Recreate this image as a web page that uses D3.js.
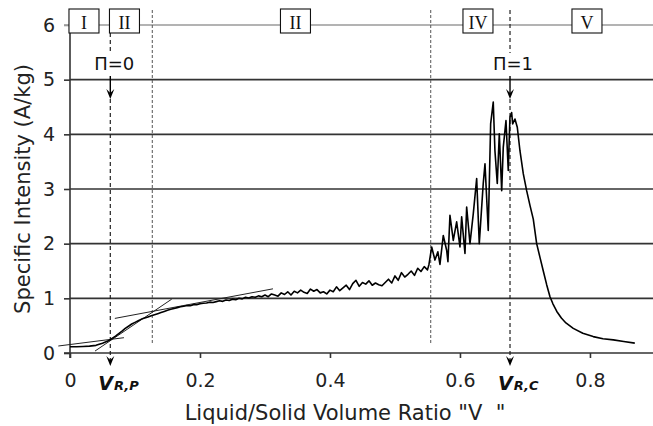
<!DOCTYPE html>
<html>
<head>
<meta charset="utf-8">
<script src="https://cdn.jsdelivr.net/npm/d3@7"></script>
<style>
  html, body { margin: 0; padding: 0; background: #fff; }
  svg { display: block; }
  text { white-space: pre; }
</style>
</head>
<body>
<div id="chart"></div>
<script>
// ---- data ----
const ratio = [
  0.000, 0.010, 0.020, 0.030, 0.040, 0.050, 0.060, 0.070, 0.080,
  0.085, 0.090, 0.095, 0.100, 0.105, 0.110, 0.115, 0.120, 0.125, 0.130,
  0.135, 0.140, 0.145, 0.150, 0.155, 0.160, 0.165, 0.170, 0.175, 0.180,
  0.185, 0.190, 0.195, 0.200, 0.205, 0.210, 0.215, 0.220, 0.225, 0.230,
  0.235, 0.240, 0.245, 0.250, 0.255, 0.260, 0.265, 0.270, 0.275, 0.280,
  0.285, 0.290, 0.295, 0.300, 0.305, 0.310, 0.315, 0.320, 0.325, 0.330,
  0.335, 0.340, 0.345, 0.350, 0.355, 0.360, 0.365, 0.370, 0.375, 0.380,
  0.385, 0.390, 0.395, 0.400, 0.405, 0.410, 0.415, 0.420, 0.425, 0.430,
  0.435, 0.440, 0.445, 0.450, 0.455, 0.460, 0.465, 0.470, 0.475, 0.480,
  0.485, 0.490, 0.495, 0.500, 0.505, 0.510, 0.515, 0.520, 0.525, 0.530,
  0.535, 0.540, 0.545, 0.550,
  0.5523, 0.5565, 0.5615, 0.566, 0.5692, 0.5743, 0.5795, 0.5815, 0.5846,
  0.5897, 0.5949, 0.6000, 0.6026, 0.6077, 0.6103, 0.6154, 0.6205, 0.6257,
  0.6297, 0.6358, 0.6385, 0.6435, 0.6472, 0.6512, 0.6538, 0.6574, 0.6605,
  0.6642, 0.6666, 0.6708, 0.6743, 0.6769, 0.6795, 0.6811, 0.6846, 0.6882,
  0.6923, 0.6974, 0.7026, 0.7077, 0.7128, 0.7180, 0.7231, 0.7282, 0.7334,
  0.7385, 0.7430, 0.7490, 0.7560, 0.7630, 0.7743, 0.7890, 0.8050, 0.8200,
  0.8360, 0.8520, 0.8690
];
const intensity = [
  0.115, 0.115, 0.120, 0.125, 0.140, 0.180, 0.230, 0.310, 0.400,
  0.45, 0.49, 0.53, 0.56, 0.59, 0.62, 0.64, 0.66, 0.68, 0.70,
  0.72, 0.74, 0.76, 0.78, 0.80, 0.815, 0.83, 0.845, 0.855, 0.87,
  0.865, 0.885, 0.885, 0.90, 0.91, 0.915, 0.93, 0.925, 0.94, 0.955,
  0.945, 0.97, 0.96, 0.985, 0.975, 1.00, 0.99, 1.02, 1.005, 1.03,
  1.02, 1.045, 1.03, 1.06, 1.03, 1.08, 1.06, 1.04, 1.10, 1.07,
  1.12, 1.06, 1.13, 1.10, 1.15, 1.11, 1.09, 1.17, 1.13, 1.16,
  1.10, 1.12, 1.08, 1.15, 1.12, 1.21, 1.14, 1.19, 1.24, 1.16,
  1.27, 1.33, 1.22, 1.29, 1.26, 1.32, 1.24, 1.28, 1.25, 1.23,
  1.29, 1.35, 1.28, 1.41, 1.33, 1.47, 1.39, 1.44, 1.50, 1.42,
  1.55, 1.49, 1.58, 1.52,
  1.62, 1.94, 1.70, 1.85, 1.62, 2.15, 1.88, 1.67, 2.52,
  2.06, 2.40, 1.94, 2.49, 1.82, 2.67, 2.00, 2.55, 3.19,
  2.00, 3.10, 3.46, 2.24, 4.19, 4.59, 3.70, 3.10, 4.01,
  2.97, 3.76, 4.25, 3.34, 4.31, 4.40, 4.19, 4.28, 4.13,
  3.70, 3.28, 2.97, 2.70, 2.45, 2.00, 1.75, 1.50, 1.25,
  1.03, 0.90, 0.76, 0.64, 0.55, 0.45, 0.36, 0.30, 0.26,
  0.24, 0.21, 0.18
];
const xTicks = [0, 0.2, 0.4, 0.6, 0.8];
const yTicks = [0, 1, 2, 3, 4, 5, 6];
const tangentLow   = [[-0.018, 0.128], [0.083, 0.28]];
const tangentSteep = [[0.0385, 0.036], [0.1565, 0.985]];
const tangentHigh  = [[0.069, 0.633], [0.3123, 1.174]];
const regionNames  = ["I", "II", "II", "IV", "V"];
const regionCenters = [0.0215, 0.0838, 0.3469, 0.6277, 0.7954];
const regionBounds = [0.1266, 0.555];
const vRP = 0.062, vRC = 0.677;

// ---- chart ----
const W = 653, H = 426;
const svg = d3.select("#chart").append("svg").attr("width", W).attr("height", H);
svg.append("rect").attr("width", W).attr("height", H).attr("fill", "#fff");

const x = d3.scaleLinear().domain([0, 0.897]).range([70, 653]);
const y = d3.scaleLinear().domain([0, 6]).range([353, 25]);
const sans = "DejaVu Sans, Verdana, sans-serif";

// gridlines
svg.append("g").selectAll("line").data(yTicks.filter(d => d > 0)).join("line")
  .attr("x1", d => d === 6 ? 64 : 70).attr("x2", 653)
  .attr("y1", d => y(d)).attr("y2", d => y(d))
  .attr("stroke", d => d === 6 ? "#9a9a9a" : "#333")
  .attr("stroke-width", 1.6);

// axes
const yAxis = d3.axisLeft(y).tickValues(yTicks).tickSize(6).tickPadding(9).tickFormat(d3.format("d"));
const gy = svg.append("g").attr("transform", "translate(70,0)").call(yAxis);
gy.select(".domain").remove();
gy.selectAll(".tick line").attr("stroke", d => d === 6 ? "#9a9a9a" : "#333").attr("stroke-width", 1.6);
gy.selectAll("text").attr("font-family", sans).attr("font-size", 19).attr("fill", "#222");
svg.append("line").attr("x1", 70).attr("x2", 70).attr("y1", y(6)).attr("y2", 358)
  .attr("stroke", "#333").attr("stroke-width", 1.6);

const xAxis = d3.axisBottom(x).tickValues(xTicks).tickSize(5).tickPadding(16)
  .tickFormat(d => d === 0 ? "0" : d3.format(".1f")(d));
const gx = svg.append("g").attr("transform", "translate(0,353)").call(xAxis);
gx.select(".domain").remove();
gx.selectAll(".tick line").attr("stroke", "#333").attr("stroke-width", 1.6);
gx.selectAll("text").attr("font-family", sans).attr("font-size", 19).attr("fill", "#222");
svg.append("line").attr("x1", 64).attr("x2", 653).attr("y1", 353).attr("y2", 353)
  .attr("stroke", "#333").attr("stroke-width", 1.6);

// region boundary dotted lines
svg.append("g").selectAll("line").data(regionBounds).join("line")
  .attr("x1", d => x(d)).attr("x2", d => x(d)).attr("y1", 10).attr("y2", 345)
  .attr("stroke", "#555").attr("stroke-width", 1).attr("stroke-dasharray", "3,2");

// VR dashed lines with arrows
const arrowHead = (cx, tip) => `M${cx - 4},${tip - 10} L${cx},${tip} L${cx + 4},${tip - 10} L${cx},${tip - 6} Z`;
[[vRP, 33], [vRC, 10]].forEach(([v, top]) => {
  const cx = x(v);
  svg.append("line").attr("x1", cx).attr("x2", cx).attr("y1", top).attr("y2", 53)
    .attr("stroke", "#222").attr("stroke-width", 1.2).attr("stroke-dasharray", "4,3");
  svg.append("line").attr("x1", cx).attr("x2", cx).attr("y1", 76).attr("y2", 95)
    .attr("stroke", "#000").attr("stroke-width", 1.4);
  svg.append("path").attr("d", arrowHead(cx, 99)).attr("fill", "#000");
  svg.append("line").attr("x1", cx).attr("x2", cx).attr("y1", 99).attr("y2", 362)
    .attr("stroke", "#222").attr("stroke-width", 1.2).attr("stroke-dasharray", "4,3");
  svg.append("path").attr("d", arrowHead(cx, 366)).attr("fill", "#000");
});

// region boxes
const boxes = svg.append("g").selectAll("g").data(regionNames).join("g");
boxes.append("rect")
  .attr("x", (d, i) => x(regionCenters[i]) - 15).attr("y", 9)
  .attr("width", 30).attr("height", 24)
  .attr("fill", "#fff").attr("stroke", "#111").attr("stroke-width", 1.1);
boxes.append("text")
  .attr("x", (d, i) => x(regionCenters[i])).attr("y", 29)
  .attr("text-anchor", "middle").attr("font-family", "Liberation Serif, Times New Roman, serif")
  .attr("font-size", 18).attr("fill", "#111").text(d => d);

// Pi labels
svg.append("text").attr("x", x(vRP) + 4).attr("y", 70).attr("text-anchor", "middle")
  .attr("font-family", sans).attr("font-size", 18).attr("fill", "#111").text("\u03A0=0");
svg.append("text").attr("x", x(vRC) + 3).attr("y", 70).attr("text-anchor", "middle")
  .attr("font-family", sans).attr("font-size", 18).attr("fill", "#111").text("\u03A0=1");

// tangent lines
const lineGen = d3.line().x(d => x(d[0])).y(d => y(d[1]));
svg.append("g").selectAll("path").data([tangentLow, tangentSteep, tangentHigh]).join("path")
  .attr("d", lineGen).attr("fill", "none").attr("stroke", "#222").attr("stroke-width", 1);

// curve
const pts = ratio.map((r, i) => [r, intensity[i]]);
svg.append("path").datum(pts).attr("d", lineGen)
  .attr("fill", "none").attr("stroke", "#000").attr("stroke-width", 1.6)
  .attr("stroke-linejoin", "round");

// VR labels under axis
[[vRP, "R,P"], [vRC, "R,C"]].forEach(([v, sub]) => {
  const t = svg.append("text").attr("x", x(v) - 12).attr("y", 390)
    .attr("font-family", sans).attr("font-weight", "bold").attr("font-style", "italic").attr("fill", "#111");
  t.append("tspan").attr("font-size", 19).text("V");
  t.append("tspan").attr("font-size", 13).attr("dx", 1).text(sub);
});

// axis titles
svg.append("text").attr("x", 345).attr("y", 420).attr("text-anchor", "middle")
  .attr("font-family", sans).attr("font-size", 21).attr("fill", "#222")
  .text("Liquid/Solid Volume Ratio \"V  \"");
svg.append("text").attr("transform", "translate(30,189) rotate(-90)").attr("text-anchor", "middle")
  .attr("font-family", sans).attr("font-size", 21).attr("fill", "#222")
  .text("Specific Intensity (A/kg)");
</script>
</body>
</html>
